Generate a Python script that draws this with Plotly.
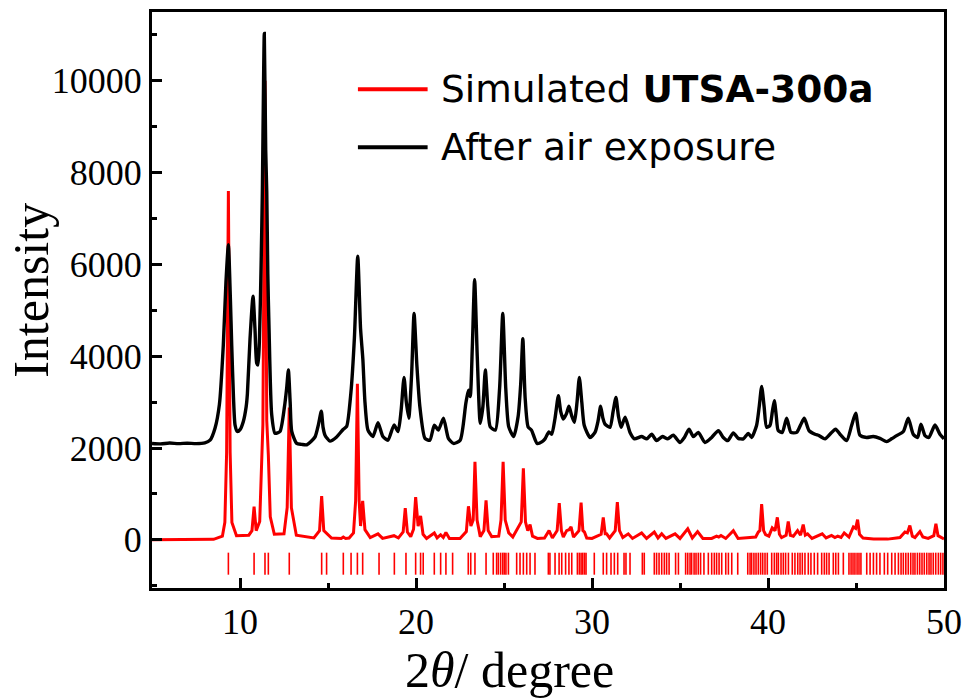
import plotly.graph_objects as go

# Measured pattern after air exposure: 2-theta (deg) and intensity
air_2theta = [5.0, 5.5, 6.0, 6.5, 7.0, 7.5, 8.0, 8.3, 8.58, 8.83, 9.05, 9.2, 9.34, 9.45, 9.53, 9.63,
              9.72, 9.85, 10.0, 10.19, 10.35, 10.42, 10.57, 10.74, 10.85, 10.95, 11.02, 11.1, 11.2,
              11.27, 11.38, 11.46, 11.52, 11.58, 11.65, 11.8, 11.99, 12.27, 12.52, 12.65, 12.75,
              12.85, 12.94, 13.22, 13.5, 13.79, 14.26, 14.45, 14.62, 14.72, 14.83, 15.11, 15.49,
              15.87, 16.06, 16.3, 16.5, 16.69, 16.85, 16.98, 17.1, 17.27, 17.55, 17.84, 18.12,
              18.41, 18.75, 18.98, 19.15, 19.32, 19.45, 19.59, 19.75, 19.89, 20.05, 20.22, 20.51,
              20.79, 21.04, 21.27, 21.56, 21.84, 22.13, 22.51, 22.83, 22.98, 23.08, 23.2, 23.33,
              23.48, 23.65, 23.8, 23.94, 24.08, 24.22, 24.51, 24.75, 24.93, 25.1, 25.27, 25.55,
              25.8, 25.95, 26.07, 26.2, 26.37, 26.56, 26.88, 27.17, 27.33, 27.55, 27.71, 27.9,
              28.09, 28.22, 28.37, 28.55, 28.69, 28.85, 29.0, 29.15, 29.28, 29.42, 29.56, 29.89,
              30.17, 30.35, 30.49, 30.62, 30.74, 31.02, 31.2, 31.36, 31.5, 31.65, 31.88, 32.16,
              32.41, 32.82, 33.11, 33.39, 33.67, 34.0, 34.3, 34.62, 35.0, 35.25, 35.51, 35.76,
              36.04, 36.42, 36.8, 37.18, 37.46, 37.71, 38.03, 38.31, 38.6, 38.88, 39.07, 39.35,
              39.5, 39.64, 39.78, 39.92, 40.11, 40.25, 40.36, 40.47, 40.58, 40.81, 41.06, 41.3,
              41.63, 41.85, 42.06, 42.33, 42.67, 42.9, 43.24, 43.52, 43.84, 44.14, 44.47, 44.75,
              44.98, 45.22, 45.6, 45.98, 46.36, 46.74, 47.02, 47.36, 47.69, 47.97, 48.25, 48.5,
              48.69, 48.92, 49.14, 49.49, 49.77, 50.0]
air_intensity = [2100, 2090, 2110, 2095, 2105, 2095, 2110, 2170, 2430, 2950, 4230, 5600, 6430, 5300,
                 4230, 3100, 2500, 2360, 2400, 2580, 2900, 3180, 4380, 5310, 4600, 3850, 3810, 4300,
                 6000, 7590, 11030, 8500, 7590, 5800, 4600, 2730, 2320, 2360, 2880, 3300, 3700,
                 3000, 2360, 2100, 2080, 2070, 2240, 2500, 2800, 2450, 2280, 2150, 2240, 2410,
                 2470, 3200, 4400, 6180, 4600, 3935, 3000, 2390, 2250, 2550, 2250, 2170, 2500,
                 2360, 2800, 3540, 3000, 2650, 3600, 4930, 3800, 2900, 2210, 2170, 2500, 2390,
                 2650, 2210, 2100, 2170, 2970, 3260, 3120, 4200, 5670, 4000, 2540, 2900, 3700,
                 2900, 2460, 2390, 3300, 4930, 3300, 2460, 2250, 2680, 3400, 4380, 3100, 2460,
                 2390, 2100, 2140, 2200, 2350, 2300, 2650, 3140, 2800, 2630, 2750, 2910, 2700,
                 2560, 3000, 3540, 3000, 2490, 2230, 2340, 2600, 2910, 2650, 2520, 2450, 2800,
                 3100, 2700, 2450, 2670, 2340, 2200, 2250, 2200, 2300, 2160, 2250, 2200, 2280,
                 2120, 2230, 2410, 2250, 2340, 2120, 2230, 2380, 2230, 2160, 2330, 2210, 2200,
                 2320, 2230, 2490, 2900, 3340, 2900, 2450, 2490, 2800, 3030, 2700, 2380, 2340,
                 2650, 2340, 2340, 2500, 2650, 2380, 2300, 2270, 2200, 2300, 2410, 2280, 2160,
                 2490, 2760, 2280, 2230, 2250, 2210, 2140, 2200, 2280, 2360, 2650, 2300, 2230,
                 2520, 2270, 2230, 2500, 2300, 2200]

# Simulated pattern of UTSA-300a
sim_2theta = [5.0, 8.5, 9.0, 9.14, 9.24, 9.34, 9.44, 9.54, 9.8, 10.5, 10.68, 10.8, 10.92, 11.12,
              11.3, 11.42, 11.52, 11.61, 11.72, 11.95, 12.5, 12.68, 12.8, 12.92, 13.2, 14.2,
              14.52, 14.64, 14.76, 15.2, 15.75, 15.87, 16.0, 16.2, 16.31, 16.45, 16.57, 16.67,
              16.77, 16.85, 16.97, 17.1, 17.4, 17.84, 18.1, 18.75, 19.0, 19.27, 19.39, 19.51,
              19.7, 19.86, 19.98, 20.12, 20.26, 20.4, 20.6, 21.04, 21.2, 21.4, 21.55, 21.7,
              21.9, 22.5, 22.86, 22.98, 23.12, 23.25, 23.35, 23.47, 23.65, 23.86, 23.98, 24.1,
              24.3, 24.7, 24.83, 24.95, 25.07, 25.27, 25.5, 25.98, 26.1, 26.22, 26.35, 26.48,
              26.62, 26.9, 27.3, 27.56, 27.75, 28.02, 28.14, 28.26, 28.37, 28.56, 28.7, 28.81,
              28.95, 29.26, 29.38, 29.48, 29.57, 29.7, 30.0, 30.52, 30.64, 30.75, 30.83, 31.0,
              31.32, 31.44, 31.56, 31.75, 32.06, 32.3, 32.82, 33.1, 33.54, 33.75, 33.96, 34.2,
              34.72, 35.0, 35.44, 35.7, 36.0, 36.3, 36.8, 37.08, 37.2, 37.33, 37.6, 38.03,
              38.3, 38.9, 39.3, 39.45, 39.54, 39.64, 39.75, 39.86, 40.05, 40.24, 40.4, 40.53,
              40.65, 40.77, 41.03, 41.15, 41.27, 41.44, 41.68, 41.85, 42.0, 42.12, 42.25, 42.5,
              43.08, 43.3, 43.61, 43.8, 43.96, 44.15, 44.33, 44.6, 44.85, 44.98, 45.09, 45.2,
              45.4, 46.0, 46.8, 47.3, 47.5, 47.78, 47.92, 48.06, 48.2, 48.35, 48.63, 48.8,
              49.1, 49.42, 49.54, 49.66, 50.0]
sim_intensity = [0, 10, 80, 380, 1900, 7600, 1900, 380, 90, 100, 200, 725, 200, 400,
                 2500, 10000, 2600, 1850, 500, 120, 130, 700, 2880, 700, 100, 40,
                 200, 950, 200, 40, 30, 60, 30, 40, 90, 150, 850, 3400,
                 850, 300, 850, 220, 50, 130, 30, 90, 40, 170, 690, 170,
                 70, 230, 930, 300, 520, 120, 30, 150, 40, 110, 50, 160,
                 30, 30, 180, 730, 300, 430, 1700, 430, 70, 200, 860, 200,
                 70, 80, 430, 1700, 430, 150, 60, 390, 1560, 390, 200, 330,
                 80, 30, 40, 200, 40, 200, 800, 200, 60, 200, 220, 280,
                 60, 200, 810, 200, 170, 40, 30, 120, 490, 130, 130, 40,
                 200, 820, 200, 50, 130, 30, 150, 30, 170, 40, 130, 30,
                 130, 30, 240, 40, 180, 30, 30, 80, 60, 95, 30, 200,
                 30, 40, 60, 170, 200, 780, 200, 115, 80, 260, 200, 490,
                 120, 50, 100, 400, 100, 80, 200, 100, 330, 100, 130, 30,
                 130, 40, 95, 50, 80, 50, 150, 60, 280, 250, 440, 120,
                 40, 20, 15, 40, 50, 170, 150, 310, 80, 50, 180, 60,
                 30, 90, 350, 90, 20]

# Calculated reflection positions (2-theta, deg)
reflections = [9.34, 10.80, 11.42, 11.61, 12.80, 14.64, 14.92, 15.87, 16.31, 16.67, 16.97, 17.90,
               18.77, 19.43, 19.98, 20.26, 20.41, 21.04, 21.40, 21.70, 22.08, 22.97, 23.11, 23.35,
               23.98, 24.39, 24.58, 24.68, 24.81, 24.93, 25.02, 25.11, 25.25, 25.72, 25.91, 26.10,
               26.29, 26.48, 26.76, 27.52, 27.61, 27.90, 28.13, 28.28, 28.50, 28.69, 28.85, 29.17,
               29.28, 29.38, 29.47, 29.57, 29.66, 30.13, 30.64, 30.83, 31.08, 31.27, 31.46, 31.82,
               31.93, 32.16, 32.86, 32.97, 33.54, 33.67, 33.81, 33.96, 34.11, 34.24, 34.38, 34.75,
               34.91, 35.32, 35.44, 35.57, 35.66, 35.80, 35.91, 36.04, 36.17, 36.36, 36.61, 36.80,
               36.95, 37.08, 37.22, 37.37, 37.60, 37.75, 37.94, 38.28, 38.85, 38.98, 39.07, 39.20,
               39.32, 39.45, 39.58, 39.70, 39.83, 39.96, 40.21, 40.36, 40.49, 40.59, 40.74, 40.87,
               41.00, 41.16, 41.38, 41.53, 41.69, 41.82, 41.95, 42.10, 42.29, 42.44, 42.63, 42.82,
               43.05, 43.20, 43.33, 43.47, 43.71, 43.85, 44.00, 44.28, 44.60, 44.72, 44.83, 44.94,
               45.06, 45.17, 45.28, 45.61, 45.80, 45.99, 46.17, 46.36, 46.61, 46.80, 47.03, 47.22,
               47.41, 47.56, 47.69, 47.83, 47.97, 48.11, 48.24, 48.35, 48.49, 48.62, 48.75, 48.88,
               49.02, 49.15, 49.26, 49.39, 49.53, 49.68, 49.81, 49.94]
reflection_span = (-280, -760)  # vertical extent of the reflection markers

x_ticks = [10, 20, 30, 40, 50]
y_ticks = [0, 2000, 4000, 6000, 8000, 10000]

RED = "#ff0000"
BLACK = "#000000"
SERIF = "Liberation Serif, Times New Roman, serif"
LEGEND_FONT = "DejaVu Sans, sans-serif"

fig = go.Figure()

# Reflection markers as one broken line trace
bar_x, bar_y = [], []
for p in reflections:
    bar_x += [p, p, None]
    bar_y += [reflection_span[0], reflection_span[1], None]
fig.add_trace(go.Scatter(x=bar_x, y=bar_y, mode="lines", line=dict(color=RED, width=1.6),
                         hoverinfo="skip", showlegend=False, name="reflections"))

fig.add_trace(go.Scatter(x=sim_2theta, y=sim_intensity, mode="lines",
                         line=dict(color=RED, width=3), name="Simulated UTSA-300a",
                         showlegend=False))
fig.add_trace(go.Scatter(x=air_2theta, y=air_intensity, mode="lines",
                         line=dict(color=BLACK, width=3.4, shape="spline", smoothing=0.6),
                         name="After air exposure", showlegend=False))

axis_common = dict(showline=True, linewidth=3, linecolor=BLACK, mirror=True, showgrid=False,
                   zeroline=False, ticks="inside", tickwidth=3, ticklen=10, tickcolor=BLACK,
                   automargin=False,
                   tickfont=dict(family=SERIF, size=36, color=BLACK))

fig.update_xaxes(range=[5, 50], tickvals=x_ticks, ticktext=[str(v) for v in x_ticks],
                 minor=dict(ticks="inside", dtick=5, tick0=5, ticklen=5, tickwidth=3,
                            tickcolor=BLACK),
                 **axis_common)
fig.update_yaxes(range=[-1050, 11500], tickvals=y_ticks, ticktext=[str(v) for v in y_ticks],
                 minor=dict(ticks="inside", dtick=1000, tick0=0, ticklen=5, tickwidth=3,
                            tickcolor=BLACK),
                 **axis_common)

# Axis titles
fig.add_annotation(xref="paper", yref="paper", x=0.451, y=-0.142, text="2<i>θ</i>/ degree",
                   showarrow=False, xanchor="center", yanchor="middle",
                   font=dict(family=SERIF, size=50, color=BLACK))
fig.add_annotation(xref="paper", yref="paper", x=-0.152, y=0.517, text="Intensity",
                   showarrow=False, textangle=-90, xanchor="center", yanchor="middle",
                   font=dict(family=SERIF, size=50, color=BLACK))

# Key: coloured line samples with labels
legend_rows = [("Simulated <b>UTSA-300a</b>", RED, 0.866), ("After air exposure", BLACK, 0.765)]
for label, colour, yp in legend_rows:
    fig.add_shape(type="line", xref="paper", yref="paper", x0=0.260, x1=0.348, y0=yp, y1=yp,
                  line=dict(color=colour, width=4))
    fig.add_annotation(xref="paper", yref="paper", x=0.363, y=yp, text=label, showarrow=False,
                       xanchor="left", yanchor="middle",
                       font=dict(family=LEGEND_FONT, size=37.5, color=BLACK))

fig.update_layout(width=965, height=699, margin=dict(l=152, r=21, t=12, b=111),
                  plot_bgcolor="white", paper_bgcolor="white", showlegend=False)

fig.write_html("out.html")
